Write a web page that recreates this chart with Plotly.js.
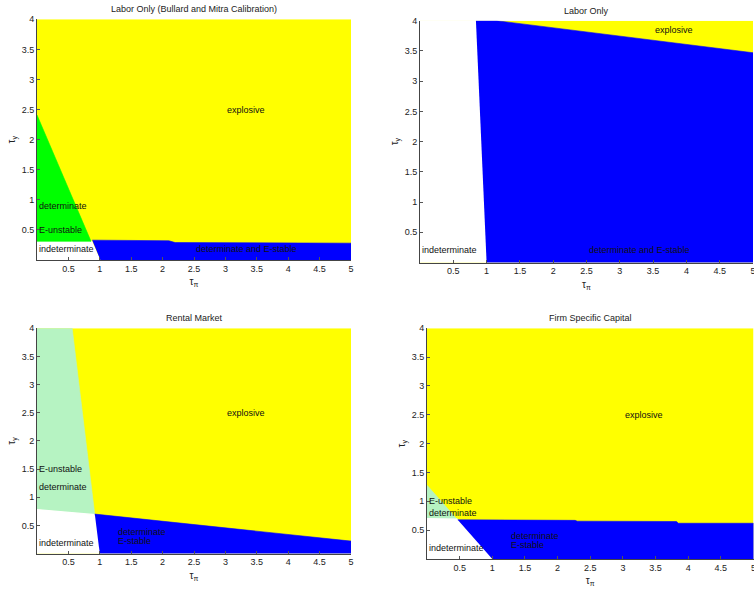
<!DOCTYPE html>
<html>
<head>
<meta charset="utf-8">
<script src="https://cdn.plot.ly/plotly-3.0.1.min.js"></script>
<style>
  html, body { margin: 0; padding: 0; background: #ffffff; }
  #chart { width: 754px; height: 590px; }
</style>
</head>
<body>
<div id="chart"></div>
<script>
// ---------- data (region boundaries, in tau_pi / tau_y units) ----------
const panelTitles = [
  "Labor Only (Bullard and Mitra Calibration)",
  "Labor Only",
  "Rental Market",
  "Firm Specific Capital"
];

const xTickVals = [0.5, 1, 1.5, 2, 2.5, 3, 3.5, 4, 4.5, 5];
const xTickText = ["0.5", "1", "1.5", "2", "2.5", "3", "3.5", "4", "4.5", "5"];
const yTickVals = [0.5, 1, 1.5, 2, 2.5, 3, 3.5, 4];
const yTickText = ["0.5", "1", "1.5", "2", "2.5", "3", "3.5", "4"];

// full parameter grid (explosive region drawn underneath)
const gridX = [0, 5, 5, 0];
const gridY = [0, 0, 4, 4];

// Panel 1: Labor Only (Bullard and Mitra Calibration)
const p1WhiteX = [0, 0, 0.87, 1.0];
const p1WhiteY = [0, 0.31, 0.31, 0];
const p1GreenX = [0, 0.86, 0];
const p1GreenY = [2.41, 0.31, 0.31];
const p1BlueX  = [0.88, 2.1, 2.2, 4.0, 5, 5, 1.01];
const p1BlueY  = [0.33, 0.32, 0.29, 0.28, 0.28, 0, 0];

// Panel 2: Labor Only
const p2WhiteX = [0, 0, 0.84, 1.0];
const p2WhiteY = [0, 4, 4, 0];
const p2BlueX  = [0.84, 1.15, 5, 5, 1.0];
const p2BlueY  = [4, 4, 3.47, 0, 0];

// Panel 3: Rental Market
const p3PaleX  = [0, 0.56, 0.92, 0];
const p3PaleY  = [4, 4, 0.69, 0.78];
const p3WhiteX = [0, 0, 0.92, 1.0];
const p3WhiteY = [0, 0.78, 0.69, 0];
const p3BlueX  = [0.92, 5, 5, 1.0];
const p3BlueY  = [0.70, 0.22, 0, 0];

// Panel 4: Firm Specific Capital
const p4PaleX  = [0, 0.46, 0];
const p4PaleY  = [1.28, 0.69, 0.70];
const p4WhiteX = [0, 0, 0.46, 1.0];
const p4WhiteY = [0, 0.70, 0.69, 0];
const p4BlueX  = [0.47, 2.27, 2.3, 3.82, 3.85, 5, 5, 1.0];
const p4BlueY  = [0.68, 0.67, 0.656, 0.65, 0.62, 0.62, 0, 0];

// ---------- styling ----------
const YELLOW = "#ffff00", BLUE = "#0000ff", GREEN = "#00ff00", PALE = "#b6f3c2", WHITE = "#ffffff";
const FONT = "Liberation Sans, Arial, Helvetica, sans-serif";

function region(xs, ys, color, n, lw) {
  const sfx = n === 1 ? "" : String(n);
  return {
    type: "scatter", mode: "lines", x: xs, y: ys,
    fill: "toself", fillcolor: color,
    line: { width: lw, color: color },
    xaxis: "x" + sfx, yaxis: "y" + sfx,
    hoverinfo: "skip", showlegend: false
  };
}

const data = [
  region(gridX, gridY, YELLOW, 1, 0),
  region(p1WhiteX, p1WhiteY, WHITE, 1, 1.2),
  region(p1GreenX, p1GreenY, GREEN, 1, 0.6),
  region(p1BlueX, p1BlueY, BLUE, 1, 0.6),

  region(gridX, gridY, YELLOW, 2, 0),
  region(p2WhiteX, p2WhiteY, WHITE, 2, 1.2),
  region(p2BlueX, p2BlueY, BLUE, 2, 0.6),

  region(gridX, gridY, YELLOW, 3, 0),
  region(p3PaleX, p3PaleY, PALE, 3, 0.6),
  region(p3WhiteX, p3WhiteY, WHITE, 3, 1.2),
  region(p3BlueX, p3BlueY, BLUE, 3, 0.6),

  region(gridX, gridY, YELLOW, 4, 0),
  region(p4PaleX, p4PaleY, PALE, 4, 0.6),
  region(p4WhiteX, p4WhiteY, WHITE, 4, 1.2),
  region(p4BlueX, p4BlueY, BLUE, 4, 0.6)
];

const W = 754, H = 590;
function dx(a, b) { return [a / W, b / W]; }
function dy(top, bottom) { return [1 - bottom / H, 1 - top / H]; }

function xAxis(domain, anchor) {
  return {
    domain: domain, anchor: anchor, range: [0, 5],
    tickmode: "array", tickvals: xTickVals, ticktext: xTickText,
    ticks: "inside", ticklen: 3, tickwidth: 1, tickcolor: "#555",
    ticklabeloverflow: "allow",
    showline: true, linecolor: "#444", linewidth: 1, mirror: false,
    showgrid: false, zeroline: false, fixedrange: true,
    tickfont: { family: FONT, size: 9, color: "#222" },
    title: { text: "τ<sub>π</sub>", font: { family: FONT, size: 10, color: "#222" }, standoff: 5 }
  };
}
function yAxis(domain, anchor) {
  return {
    domain: domain, anchor: anchor, range: [0, 4],
    tickmode: "array", tickvals: yTickVals, ticktext: yTickText,
    ticks: "inside", ticklen: 3, tickwidth: 1, tickcolor: "#555",
    showline: true, linecolor: "#444", linewidth: 1, mirror: false,
    showgrid: false, zeroline: false, fixedrange: true,
    tickfont: { family: FONT, size: 9, color: "#222" },
    title: { text: "τ<sub>y</sub>", font: { family: FONT, size: 10, color: "#222" }, standoff: 4 }
  };
}

function label(text, x, y, n) {
  const sfx = n === 1 ? "" : String(n);
  return {
    text: text, x: x, y: y, xref: "x" + sfx, yref: "y" + sfx,
    xanchor: "left", yanchor: "middle", showarrow: false,
    font: { family: FONT, size: 9, color: "#111" }
  };
}
function title(text, n) {
  const sfx = n === 1 ? "" : String(n);
  return {
    text: text, x: 0.5, y: 1, xref: "x" + sfx + " domain", yref: "y" + sfx + " domain",
    xanchor: "center", yanchor: "bottom", yshift: 3, showarrow: false,
    font: { family: FONT, size: 9, color: "#222" }
  };
}

const annotations = [
  title(panelTitles[0], 1), title(panelTitles[1], 2), title(panelTitles[2], 3), title(panelTitles[3], 4),

  label("explosive", 3.0, 2.5, 1),
  label("determinate", 0.0, 0.9, 1),
  label("E-unstable", 0.0, 0.5, 1),
  label("indeterminate", 0.0, 0.19, 1),
  label("determinate and E-stable", 2.5, 0.19, 1),

  label("explosive", 3.5, 3.85, 2),
  label("indeterminate", 0.0, 0.21, 2),
  label("determinate and E-stable", 2.5, 0.21, 2),

  label("explosive", 3.0, 2.5, 3),
  label("E-unstable", 0.0, 1.5, 3),
  label("determinate", 0.0, 1.18, 3),
  label("indeterminate", 0.0, 0.18, 3),
  label("determinate", 1.25, 0.38, 3),
  label("E-stable", 1.25, 0.23, 3),

  label("explosive", 3.0, 2.5, 4),
  label("E-unstable", 0.0, 1.0, 4),
  label("determinate", 0.0, 0.8, 4),
  label("indeterminate", 0.0, 0.19, 4),
  label("determinate", 1.25, 0.40, 4),
  label("E-stable", 1.25, 0.25, 4)
];

const layout = {
  width: W, height: H,
  margin: { l: 0, r: 0, t: 0, b: 0, pad: 0 },
  paper_bgcolor: "#ffffff", plot_bgcolor: "#ffffff",
  showlegend: false,
  font: { family: FONT, size: 9, color: "#222" },
  xaxis:  xAxis(dx(37, 351), "y"),   yaxis:  yAxis(dy(19.3, 260), "x"),
  xaxis2: xAxis(dx(420, 753), "y2"), yaxis2: yAxis(dy(20.7, 262.5), "x2"),
  xaxis3: xAxis(dx(37, 351), "y3"),  yaxis3: yAxis(dy(328.3, 553.5), "x3"),
  xaxis4: xAxis(dx(427, 753.5), "y4"), yaxis4: yAxis(dy(328.3, 559), "x4"),
  annotations: annotations
};

Plotly.newPlot("chart", data, layout, { staticPlot: true, displayModeBar: false });
</script>
</body>
</html>
